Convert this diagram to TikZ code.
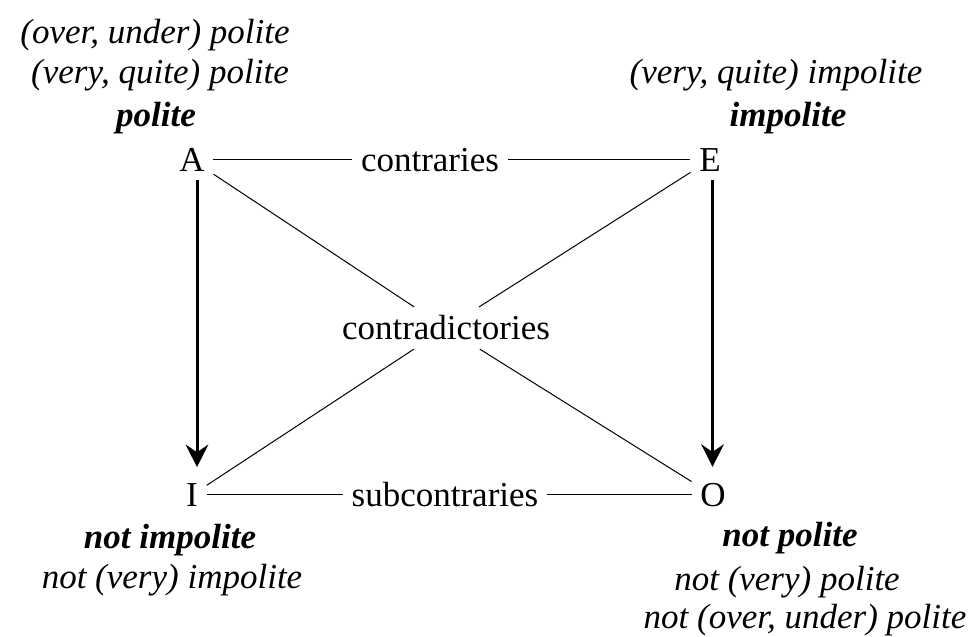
\documentclass[tikz,border=0pt]{standalone}
\usepackage{fontspec}
\setmainfont{Liberation Serif}[ItalicFont={Liberation Serif Italic},BoldItalicFont={Liberation Serif Bold Italic}]
\usetikzlibrary{arrows.meta}

\begin{document}
\begin{tikzpicture}[x=0.4pt,y=-0.4pt,font=\fontsize{14}{16}\selectfont,
  lbl/.style={font=\fontsize{14}{16}\selectfont\itshape},
  key/.style={font=\fontsize{14}{16}\selectfont\bfseries\itshape},
  imp/.style={line width=1.2pt,shorten >=3pt,-{Stealth[length=9pt,width=9pt,inset=3pt]}}]
  \useasboundingbox (0,0) rectangle (978,637);
  % corners of the square
  \node (A) at (192,160) {A};
  \node (E) at (710,160) {E};
  \node (I) at (192,495) {I};
  \node (O) at (713,495) {O};
  \node (contr) at (430,160) {contraries};
  \node (sub) at (445,495) {subcontraries};
  \node (ctr) at (446,328) {contradictories};
  % readings
  \node[lbl] (ou) at (155,35) {(over, under) polite};
  \node[lbl] (vq) at (160,75) {(very, quite) polite};
  \node[key] (pol) at (156,118) {polite};
  \node[lbl] (vqi) at (776,75) {(very, quite) impolite};
  \node[key] (imp) at (788,118) {impolite};
  \node[key] (ni) at (170,540) {not impolite};
  \node[lbl] (nvi) at (172,580) {not (very) impolite};
  \node[key] (np) at (790,538) {not polite};
  \node[lbl] (nvp) at (787,582) {not (very) polite};
  \node[lbl] (nou) at (805,620) {not (over, under) polite};
  % relations
  \draw (A) -- (contr) -- (E);
  \draw (I) -- (sub) -- (O);
  \draw (A) -- (ctr) -- (O);
  \draw (E) -- (ctr) -- (I);
  \draw[imp] ([xshift=2pt]A.south) -- ([xshift=2pt]A.south |- I.north);
  \draw[imp] ([xshift=1pt]E.south) -- ([xshift=1pt]E.south |- O.north);
\end{tikzpicture}
\end{document}
